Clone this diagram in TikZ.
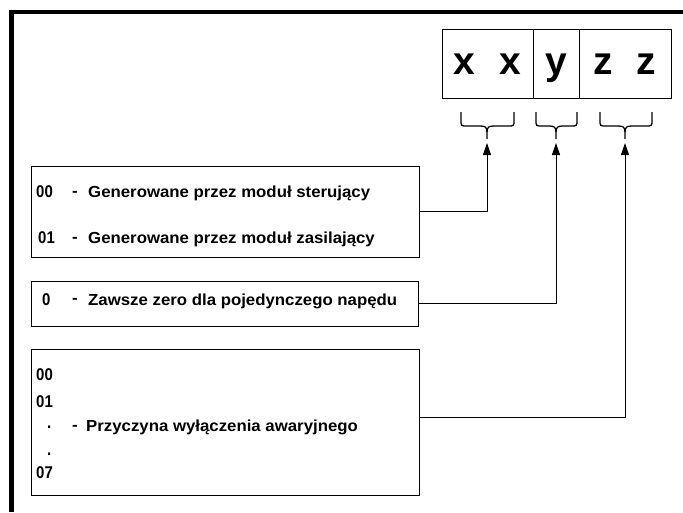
\documentclass[tikz,border=0pt]{standalone}
\usepackage{fontspec}
\setmainfont{Liberation Sans}[FakeStretch=1.05]
\newfontfamily\bigfont{Liberation Sans}
\newfontfamily\numfont{Liberation Sans}[FakeStretch=0.88]
\usetikzlibrary{arrows.meta}
\begin{document}
\begin{tikzpicture}[x=1pt,y=-1pt,
  frame/.style={line width=4.5pt},
  cell/.style={draw, line width=0.9pt, minimum height=69pt, inner sep=0pt,
    font=\bigfont\bfseries\fontsize{39}{40}\selectfont, text height=22pt, text depth=0pt},
  descbox/.style={draw, line width=0.8pt, inner sep=0pt},
  lbl/.style={anchor=base west, inner sep=0pt, font=\bfseries\fontsize{16}{18}\selectfont},
  num/.style={anchor=base west, inner sep=0pt, font=\numfont\bfseries\fontsize{17}{18}\selectfont},
  brc/.style={line width=1.3pt},
  arr/.style={line width=0.8pt, -{Triangle[length=12pt,width=8pt]}}]
\useasboundingbox (0,0) rectangle (683,512);
\fill[white] (0,0) rectangle (683,512);
% frame
\draw[frame] (11.5,512) -- (11.5,12) -- (683,12);
% code cells
\node[cell, minimum width=91pt] (cx) at (487.5,63.5) {x\hspace{24pt}x};
\node[cell, minimum width=46pt] (cy) at (556,63.5) {y};
\node[cell, minimum width=92pt] (cz) at (625,63.5) {z\hspace{24pt}z};
% braces
\foreach \l/\m/\r/\nm in {461/487/514/bxx, 536/556/577/by, 600/625/652/bzz}{
  \draw[brc] (\l,112) -- (\l,120) .. controls (\l,126) .. (\l+6,126) -- (\m-7,126)
    .. controls (\m-2,126) and (\m,127) .. (\m,132) -- (\m,139);
  \draw[brc] (\r,112) -- (\r,120) .. controls (\r,126) .. (\r-6,126) -- (\m+7,126)
    .. controls (\m+2,126) and (\m,127) .. (\m,132);
}
\coordinate (axx) at (487,143);
\coordinate (ay) at (556,143);
\coordinate (az) at (625,143);
% description boxes
\node[descbox, minimum width=388pt, minimum height=91pt] (box1) at (225,211.5) {};
\node[descbox, minimum width=387pt, minimum height=45pt] (box2) at (224.5,303.5) {};
\node[descbox, minimum width=388pt, minimum height=146pt] (box3) at (225,422) {};
% box1 texts
\node[num] (n00a) at (36,197) {00};
\node[lbl] (d1) at (72,196) {-};
\node[lbl] (t1) at (88,197) {Generowane przez moduł sterujący};
\node[num] (n01a) at (38,243) {01};
\node[lbl] (d2) at (72,242) {-};
\node[lbl] (t2) at (88,243) {Generowane przez moduł zasilający};
% box2 texts
\node[num] (n0) at (42,305) {0};
\node[lbl] (d3) at (72,303) {-};
\node[lbl] (t3) at (88,305) {Zawsze zero dla pojedynczego napędu};
% box3 texts
\node[num] (n00b) at (36,380) {00};
\node[num] (n01b) at (36,407) {01};
\node[num] (p1) at (47,428) {.};
\node[num] (p2) at (47,455) {.};
\node[num] (n07) at (36,478) {07};
\node[lbl] (d4) at (72,430) {-};
\node[lbl] (t4) at (86,431) {Przyczyna wyłączenia awaryjnego};
% connectors
\draw[arr] (box1.east) -| (axx);
\draw[arr] (box2.east) -| (ay);
\draw[arr] ([yshift=5pt]box3.east) -| (az);
\end{tikzpicture}
\end{document}
